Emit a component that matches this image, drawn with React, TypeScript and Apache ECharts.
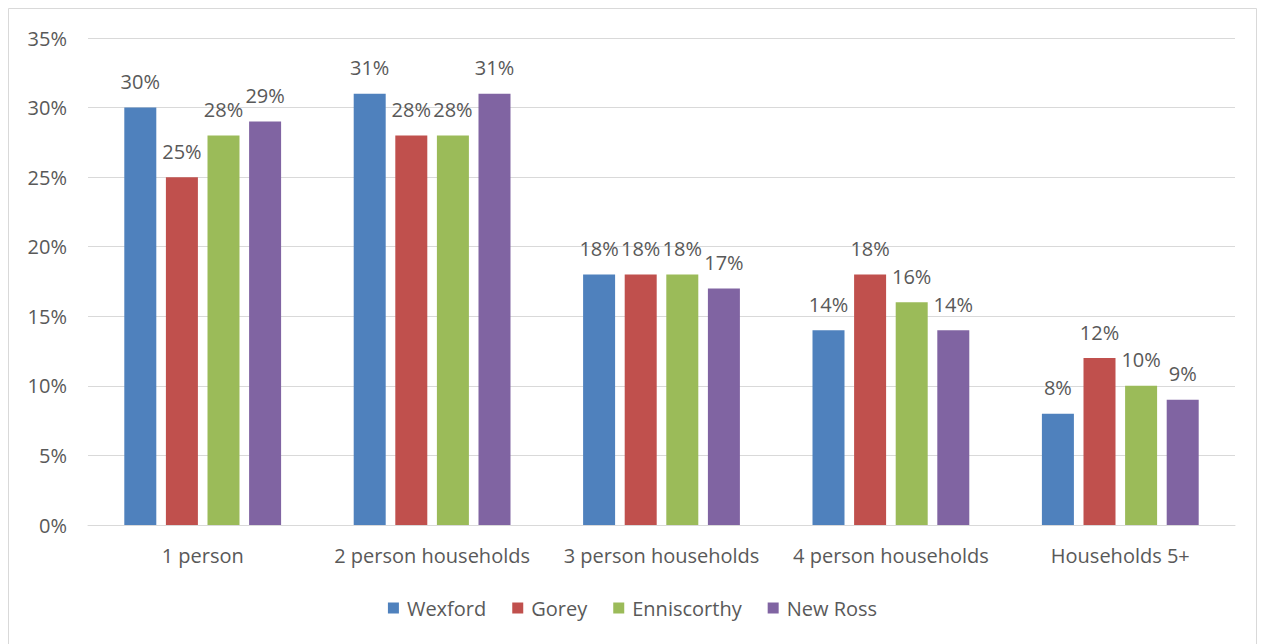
import React, { useEffect, useRef } from "react";
import * as echarts from "echarts";

const categories = [
  "1 person",
  "2 person households",
  "3 person households",
  "4 person households",
  "Households 5+",
];
const wexford = [30, 31, 18, 14, 8];
const gorey = [25, 28, 18, 18, 12];
const enniscorthy = [28, 28, 18, 16, 10];
const newRoss = [29, 31, 17, 14, 9];

const seriesNames = ["Wexford", "Gorey", "Enniscorthy", "New Ross"];
const seriesColors = ["#4F81BD", "#C0504D", "#9BBB59", "#8064A2"];
const yTicks = { min: 0, max: 35, interval: 5 };

const FONT = "'Open Sans', 'Noto Sans', sans-serif";
const TEXT = "#595959";
const SIZE = 20;

export default function App() {
  const ref = useRef<HTMLDivElement>(null);

  useEffect(() => {
    if (!ref.current) return;
    const chart = echarts.init(ref.current, null, { renderer: "svg" });
    const values = [wexford, gorey, enniscorthy, newRoss];
    chart.setOption({
      animation: false,
      backgroundColor: "#ffffff",
      textStyle: { fontFamily: FONT, color: TEXT },
      graphic: [
        {
          type: "rect",
          shape: { x: 8.5, y: 8.5, width: 1248, height: 660 },
          style: { fill: "none", stroke: "#d9d9d9", lineWidth: 1 },
          silent: true,
        },
      ],
      grid: { left: 88, right: 30, top: 38, bottom: 119 },
      legend: {
        bottom: 21,
        left: "center",
        itemWidth: 11,
        itemHeight: 11,
        itemGap: 26,
        icon: "rect",
        data: seriesNames,
        textStyle: { fontFamily: FONT, fontSize: SIZE, color: TEXT, padding: [0, 0, 0, 3] },
      },
      xAxis: {
        type: "category",
        data: categories,
        axisLine: { lineStyle: { color: "#d9d9d9", width: 1 } },
        axisTick: { show: false },
        axisLabel: { fontFamily: FONT, fontSize: SIZE, color: TEXT, margin: 20, interval: 0 },
      },
      yAxis: {
        type: "value",
        min: yTicks.min,
        max: yTicks.max,
        interval: yTicks.interval,
        axisLine: { show: false },
        axisTick: { show: false },
        splitLine: { lineStyle: { color: "#d9d9d9", width: 1 } },
        axisLabel: {
          fontFamily: FONT,
          fontSize: SIZE,
          color: TEXT,
          margin: 21,
          formatter: "{value}%",
        },
      },
      series: seriesNames.map((name, i) => ({
        name,
        type: "bar",
        data: values[i],
        barWidth: 32,
        barGap: "30%",
        itemStyle: { color: seriesColors[i] },
        label: {
          show: true,
          position: "top",
          distance: 16,
          fontFamily: FONT,
          fontSize: SIZE,
          color: TEXT,
          formatter: "{c}%",
        },
      })),
    });
    return () => chart.dispose();
  }, []);

  return (
    <div
      style={{
        position: "fixed",
        left: 0,
        top: 0,
        width: 1265,
        height: 644,
        overflow: "hidden",
        background: "#ffffff",
      }}
    >
      <div ref={ref} style={{ width: 1265, height: 644 }} />
    </div>
  );
}
